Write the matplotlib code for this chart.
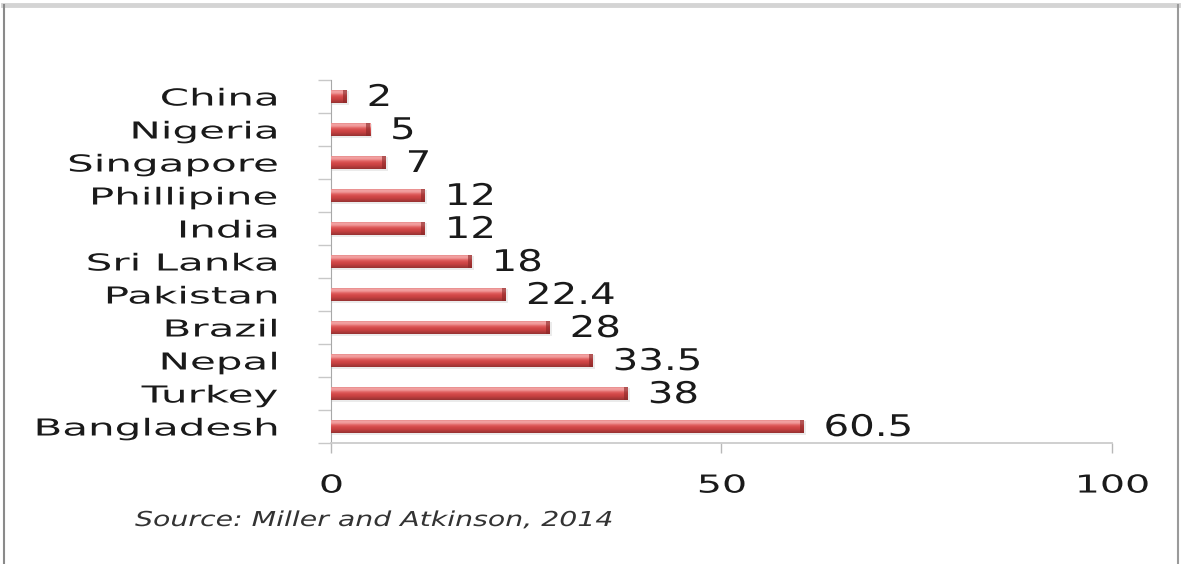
import numpy as np
import matplotlib
matplotlib.use("Agg")
import matplotlib.pyplot as plt
from matplotlib.colors import LinearSegmentedColormap
from matplotlib.lines import Line2D
from matplotlib.patheffects import AbstractPathEffect
from matplotlib.transforms import Affine2D

countries = ["Bangladesh", "Turkey", "Nepal", "Brazil", "Pakistan", "Sri Lanka",
             "India", "Phillipine", "Singapore", "Nigeria", "China"]
values = [60.5, 38, 33.5, 28, 22.4, 18, 12, 12, 7, 5, 2]
value_labels = ["60.5", "38", "33.5", "28", "22.4", "18", "12", "12", "7", "5", "2"]
x_ticks = [0, 50, 100]
source_note = "Source: Miller and Atkinson, 2014"

plt.rcParams["font.family"] = ["DejaVu Sans"]


class HStretch(AbstractPathEffect):
    """Widen glyphs horizontally about the text's anchored edge."""

    def __init__(self, sx, ha):
        super().__init__()
        self.sx = sx
        self.ha = ha

    def draw_path(self, renderer, gc, tpath, affine, rgbFace=None):
        v = affine.transform(tpath.vertices)
        if len(v) == 0:
            return
        x0, x1 = v[:, 0].min(), v[:, 0].max()
        a = {"left": x0, "right": x1, "center": 0.5 * (x0 + x1)}[self.ha]
        t = affine + Affine2D().translate(-a, 0).scale(self.sx, 1).translate(a, 0)
        renderer.draw_path(gc, tpath, t, rgbFace)


fig = plt.figure(figsize=(11.81, 5.64), dpi=100)
ax = fig.add_axes([331 / 1181, 1 - 443 / 564, (1112 - 331) / 1181, (443 - 80) / 564])

y = np.arange(len(countries))
bars = ax.barh(y, values, height=0.42, color="#c94040", edgecolor="none", zorder=2)

# vertical shading on each bar: darker bottom, light band near the top
shade = LinearSegmentedColormap.from_list(
    "barshade", ["#963232", "#b03a3a", "#c84242", "#d44a4a", "#e06060",
                 "#f09898", "#f2a4a4", "#d86a6a"])
grad = np.linspace(0, 1, 64).reshape(-1, 1)
for b in bars:
    x0, y0 = b.get_x(), b.get_y()
    w, h = b.get_width(), b.get_height()
    # soft shadow under the bar
    ax.add_patch(plt.Rectangle((x0, y0 - 0.05), w + 0.3, h, color="#000000",
                               alpha=0.08, zorder=1.5, lw=0))
    im = ax.imshow(grad, cmap=shade, aspect="auto", origin="lower",
                   extent=[x0, x0 + w, y0, y0 + h], zorder=3)
    im.set_clip_path(b)
    # darker end cap
    ax.add_patch(plt.Rectangle((x0 + w - 0.5, y0), 0.5, h, color="#8a2626",
                               alpha=0.6, zorder=4, lw=0))

for yi, v, lab in zip(y, values, value_labels):
    t = ax.annotate(lab, xy=(v, yi), xytext=(20, -1), textcoords="offset pixels",
                    ha="left", va="center", fontsize=21.5, color="#1a1a1a", zorder=5)
    t.set_path_effects([HStretch(1.35, "left")])

ax.set_xlim(0, 100)
ax.set_ylim(-0.5, len(countries) - 0.5)
ax.set_xticks(x_ticks)
ax.set_xticklabels([str(tk) for tk in x_ticks])
ax.set_yticks(y)
ax.set_yticklabels(countries)
ax.set_yticks(np.arange(-0.5, len(countries)), minor=True)

ax.tick_params(axis="y", which="major", length=0, pad=38, labelsize=16.8,
               labelcolor="#1a1a1a")
ax.tick_params(axis="y", which="minor", length=9.5, width=1, color="#c8c8c8")
ax.tick_params(axis="x", length=7, width=1, color="#b8b8b8", pad=15,
               labelsize=17.8, labelcolor="#1a1a1a")

for lab in ax.get_yticklabels():
    lab.set_path_effects([HStretch(1.8, "right")])
for lab in ax.get_xticklabels():
    lab.set_path_effects([HStretch(1.6, "center")])

for side in ["top", "right"]:
    ax.spines[side].set_visible(False)
ax.spines["left"].set_color("#a8a8a8")
ax.spines["bottom"].set_color("#cccccc")
ax.spines["bottom"].set_linewidth(1.3)
ax.set_facecolor("white")

src = fig.text(135 / 1181, 1 - 520 / 564, source_note, fontsize=14.8, style="italic",
               color="#333333", ha="left", va="center")
src.set_path_effects([HStretch(1.38, "left")])

# frame around the figure
fig.add_artist(Line2D([3 / 1181, 1178 / 1181], [1 - 5 / 564, 1 - 5 / 564],
                      transform=fig.transFigure, color="#d4d4d4", lw=3.5))
fig.add_artist(Line2D([3.5 / 1181, 3.5 / 1181], [0, 1 - 5 / 564],
                      transform=fig.transFigure, color="#8a8a8a", lw=1.5))
fig.add_artist(Line2D([1178 / 1181, 1178 / 1181], [0, 1 - 5 / 564],
                      transform=fig.transFigure, color="#9a9a9a", lw=1.5))

fig.savefig("out.png", dpi=100, facecolor="white")
